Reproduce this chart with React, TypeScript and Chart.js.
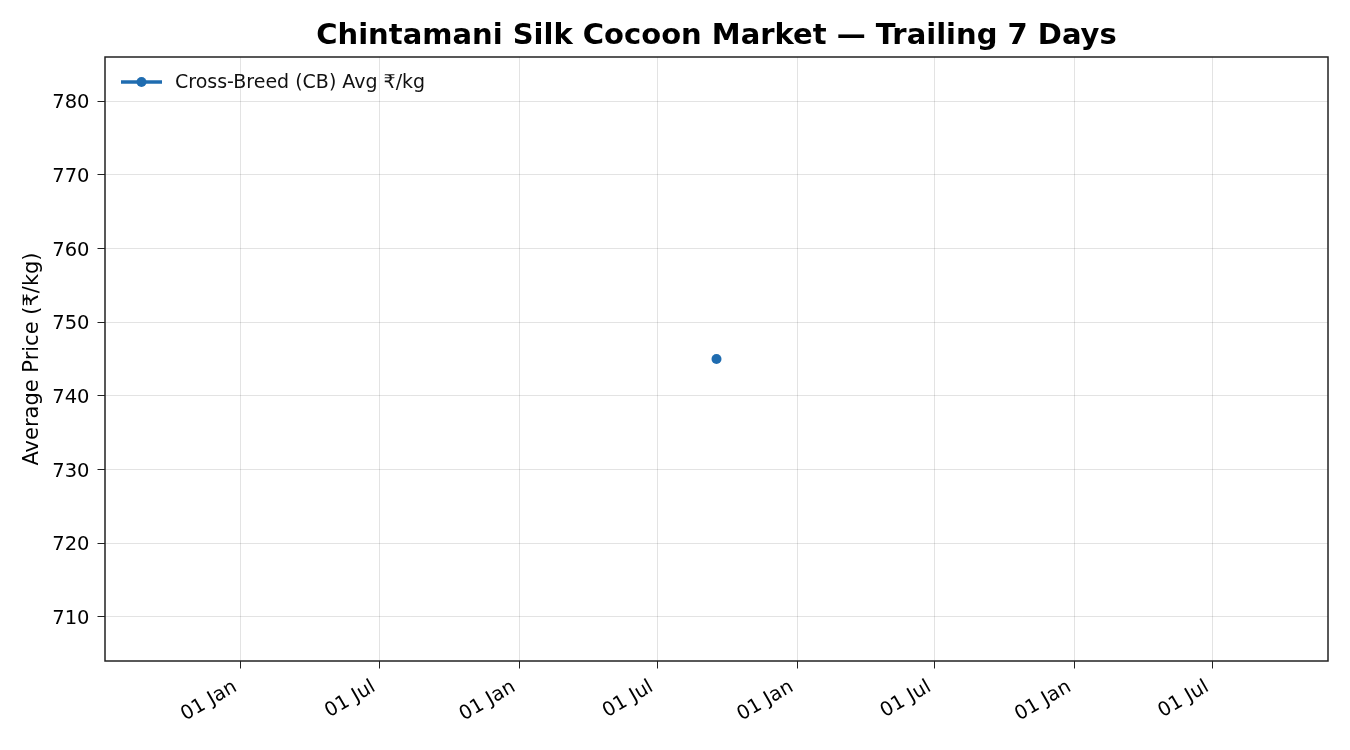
import { useEffect, useRef } from 'react';
import Chart from 'chart.js/auto';

const TITLE = 'Chintamani Silk Cocoon Market — Trailing 7 Days';
const SERIES_LABEL = 'Cross-Breed (CB) Avg ₹/kg';
const Y_LABEL = 'Average Price (₹/kg)';

const dates = ['2025-09-17'];
const avgPrice = [745];

const xTickDates = [
  '2024-01-01', '2024-07-01', '2025-01-01', '2025-07-01',
  '2026-01-01', '2026-07-01', '2027-01-01', '2027-07-01',
];
const yTicks = [710, 720, 730, 740, 750, 760, 770, 780];

const MONTHS = ['Jan', 'Feb', 'Mar', 'Apr', 'May', 'Jun', 'Jul', 'Aug', 'Sep', 'Oct', 'Nov', 'Dec'];
const DAY = 86400000;
const BLUE = '#1f6cb0';
const FONT = "'DejaVu Sans', sans-serif";

const toMs = (s: string) => Date.parse(s + 'T00:00:00Z');

function fmtDate(ms: number) {
  const d = new Date(ms);
  return String(d.getUTCDate()).padStart(2, '0') + ' ' + MONTHS[d.getUTCMonth()];
}

// matplotlib-like range for a single point: +-2 years, then 5% margins
const xs = dates.map(toMs);
const xCenter = (Math.min(...xs) + Math.max(...xs)) / 2;
const xHalf = 730.5 * 1.1 * DAY;
const yCenter = avgPrice[0];
const yHalf = Math.abs(yCenter) * 0.05 * 1.1;

const frame = {
  id: 'frame',
  afterDraw(chart: Chart) {
    const { ctx, chartArea: a } = chart;
    ctx.save();
    ctx.strokeStyle = '#222';
    ctx.lineWidth = 1.5;
    ctx.strokeRect(a.left, a.top, a.right - a.left, a.bottom - a.top);

    ctx.fillStyle = '#000';
    ctx.font = `bold 29px ${FONT}`;
    ctx.textAlign = 'center';
    ctx.textBaseline = 'middle';
    ctx.fillText(TITLE, (a.left + a.right) / 2, 36);

    // legend inside axes, upper left
    const ly = a.top + 25;
    ctx.strokeStyle = BLUE;
    ctx.lineWidth = 3.5;
    ctx.beginPath();
    ctx.moveTo(a.left + 16, ly);
    ctx.lineTo(a.left + 57, ly);
    ctx.stroke();
    ctx.fillStyle = BLUE;
    ctx.beginPath();
    ctx.arc(a.left + 36.5, ly, 5, 0, Math.PI * 2);
    ctx.fill();
    ctx.fillStyle = '#111';
    ctx.font = `19px ${FONT}`;
    ctx.textAlign = 'left';
    ctx.fillText(SERIES_LABEL, a.left + 70, ly + 1);
    ctx.restore();
  },
};

function CocoonChart() {
  const canvasRef = useRef<HTMLCanvasElement>(null);

  useEffect(() => {
    if (!canvasRef.current) return;
    const chart = new Chart(canvasRef.current, {
      type: 'line',
      data: {
        datasets: [
          {
            label: SERIES_LABEL,
            data: xs.map((x, i) => ({ x, y: avgPrice[i] })),
            borderColor: BLUE,
            backgroundColor: BLUE,
            borderWidth: 3,
            pointRadius: 5,
            pointBorderWidth: 0,
          },
        ],
      },
      options: {
        responsive: false,
        animation: false,
        layout: { padding: { top: 57, right: 22, left: 0, bottom: 0 } },
        plugins: { legend: { display: false }, title: { display: false }, tooltip: { enabled: false } },
        scales: {
          x: {
            type: 'linear',
            min: xCenter - xHalf,
            max: xCenter + xHalf,
            afterBuildTicks: (s: any) => {
              s.ticks = xTickDates.map((d) => ({ value: toMs(d) }));
            },
            afterFit: (s: any) => {
              s.height = 89;
            },
            grid: { color: 'rgba(0,0,0,0.11)', tickColor: '#222', tickLength: 7.5, lineWidth: 1 },
            border: { display: false },
            ticks: {
              autoSkip: false,
              maxRotation: 30,
              minRotation: 30,
              color: '#000',
              padding: 4,
              font: { family: FONT, size: 19.5 },
              // trailing space nudges the rotated label like matplotlib's ha="right"
              callback: (v: any) => fmtDate(Number(v)) + ' ',
            },
          },
          y: {
            min: yCenter - yHalf,
            max: yCenter + yHalf,
            afterBuildTicks: (s: any) => {
              s.ticks = yTicks.map((value) => ({ value }));
            },
            afterFit: (s: any) => {
              s.width = 105;
            },
            grid: { color: 'rgba(0,0,0,0.11)', tickColor: '#222', tickLength: 7.5, lineWidth: 1 },
            border: { display: false },
            title: {
              display: true,
              text: Y_LABEL,
              color: '#000',
              font: { family: FONT, size: 21 },
              padding: { top: 20, bottom: 0 },
            },
            ticks: {
              color: '#000',
              padding: 8,
              labelOffset: 2,
              font: { family: FONT, size: 19.5 },
              callback: (v: any) => String(v),
            },
          },
        },
      },
      plugins: [frame],
    });
    return () => chart.destroy();
  }, []);

  return <canvas ref={canvasRef} width={1350} height={750} style={{ display: 'block' }} />;
}

export default function App() {
  return (
    <div style={{ position: 'fixed', left: 0, top: 0, width: 1350, height: 750, background: '#fff' }}>
      <CocoonChart />
    </div>
  );
}
